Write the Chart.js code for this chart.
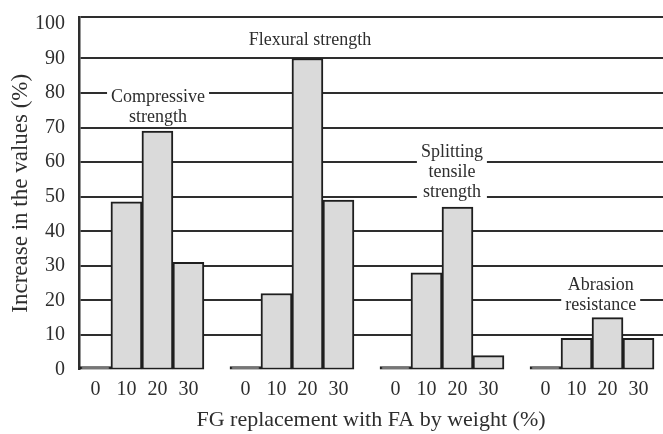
<!DOCTYPE html>
<html>
<head>
<meta charset="utf-8">
<script src="https://cdn.jsdelivr.net/npm/chart.js@4.4.1/dist/chart.umd.min.js"></script>
<style>
html, body { margin: 0; padding: 0; background: #fff; }
</style>
</head>
<body>
<canvas id="chart" width="663" height="434"></canvas>
<script>
var replacement = ['0', '10', '20', '30'];
var compressive = [0.3, 48.5, 69, 31];
var flexural = [0, 22, 90, 49];
var splitting = [0, 28, 47, 4];
var abrasion = [0, 9, 15, 9];
var yTicks = [0, 10, 20, 30, 40, 50, 60, 70, 80, 90, 100];

var groupNames = [['Compressive', 'strength'], ['Flexural strength'], ['Splitting', 'tensile', 'strength'], ['Abrasion', 'resistance']];
var groupValues = [compressive, flexural, splitting, abrasion];

var gap = 0.84;   // space between groups, in bar widths
var yMax = 102;   // frame sits a little above the 100 tick
// where each group name is centred, in axis units [x, y]
var namePos = [[2.52, 76], [7.42, 95.4], [12.0, 57.2], [16.8, 21.4]];

var serif = "'Liberation Serif', 'Times New Roman', serif";
var ink = '#2e2e2e';

var points = [];
var tickLabels = [];
groupValues.forEach(function(vals, g) {
	vals.forEach(function(v, i) {
		points.push({x: g * (replacement.length + gap) + i + 0.5, y: v});
		tickLabels.push(replacement[i]);
	});
});

// group names in white boxes over the grid
var groupLabels = {
	id: 'groupLabels',
	afterDatasetsDraw: function(chart) {
		var ctx = chart.ctx, xs = chart.scales.x, ys = chart.scales.y;
		var lh = 20;
		ctx.save();
		ctx.font = '18px ' + serif;
		ctx.textAlign = 'center';
		ctx.textBaseline = 'middle';
		groupNames.forEach(function(lines, g) {
			var cx = xs.getPixelForValue(namePos[g][0]);
			var cy = ys.getPixelForValue(namePos[g][1]);
			var w = Math.max.apply(null, lines.map(function(t) { return ctx.measureText(t).width; }));
			var h = lines.length * lh;
			ctx.fillStyle = '#fff';
			ctx.fillRect(cx - w / 2 - 4, cy - h / 2 + 2, w + 8, h - 4);
			ctx.fillStyle = ink;
			lines.forEach(function(t, k) {
				ctx.fillText(t, cx, cy - h / 2 + lh * (k + 0.5));
			});
		});
		ctx.restore();
	}
};

var config = {
	type: 'bar',
	data: {
		datasets: [{
			data: points,
			backgroundColor: '#dadada',
			borderColor: '#1e1e1e',
			borderWidth: 2,
			borderSkipped: false,
			minBarLength: 3,
			barPercentage: 1,
			categoryPercentage: 1
		}]
	},
	options: {
		responsive: false,
		animation: false,
		devicePixelRatio: 1,
		layout: { padding: { top: 17, right: 0, bottom: 0, left: 0 } },
		plugins: {
			legend: { display: false },
			tooltip: { enabled: false }
		},
		scales: {
			x: {
				type: 'linear',
				bounds: 'data',
				offset: false,
				min: -0.03,
				max: 18.81,
				grid: { display: false, drawTicks: false },
				border: { display: false },
				afterBuildTicks: function(scale) {
					scale.ticks = points.map(function(p) { return {value: p.x}; });
				},
				afterFit: function(scale) {
					scale.height = 64.5;
					scale.paddingLeft = 0;
					scale.paddingRight = 0;
				},
				ticks: {
					autoSkip: false,
					maxRotation: 0,
					padding: 8,
					color: ink,
					font: { family: serif, size: 20 },
					callback: function(value, index) { return tickLabels[index]; }
				},
				title: {
					display: true,
					text: 'FG replacement with FA by weight (%)',
					color: ink,
					font: { family: serif, size: 22 },
					padding: { top: 0, bottom: 1 }
				}
			},
			y: {
				min: 0,
				max: yMax,
				afterBuildTicks: function(scale) {
					scale.ticks = yTicks.concat([yMax]).map(function(v) { return {value: v}; });
				},
				afterFit: function(scale) {
					scale.width = 79;
					scale.paddingTop = 0;
					scale.paddingBottom = 0;
				},
				grid: {
					drawTicks: false,
					lineWidth: function(c) { return c.tick.value === 0 ? 0 : 2; },
					color: function(c) {
						return (c.tick.value === 0 || c.tick.value === 100) ? 'rgba(0,0,0,0)' : ink;
					}
				},
				border: { display: true, color: ink, width: 2.5 },
				ticks: {
					padding: 14,
					color: ink,
					font: { family: serif, size: 20 },
					callback: function(value) { return value > 100 ? '' : value; }
				},
				title: {
					display: true,
					text: 'Increase in the values (%)',
					color: ink,
					font: { family: serif, size: 23 },
					padding: { top: 7, bottom: 0 }
				}
			}
		}
	},
	plugins: [groupLabels]
};

var myChart = new Chart(document.getElementById('chart'), config);
</script>
</body>
</html>
